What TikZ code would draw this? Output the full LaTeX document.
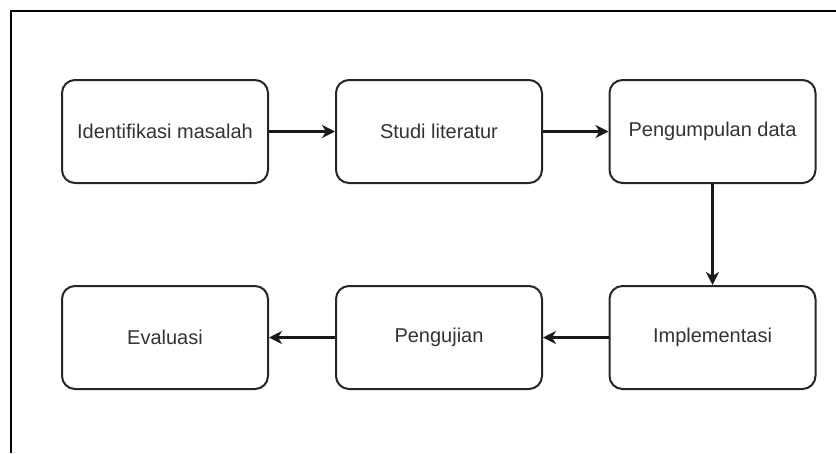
\documentclass[tikz,border=0pt]{standalone}
\usepackage{fontspec}
\setmainfont{Liberation Sans}
\usetikzlibrary{arrows.meta}
\begin{document}
\begin{tikzpicture}[x=1pt,y=-1pt,
  stepbox/.style={draw=black!85, line width=2pt, rounded corners=13pt, minimum width=206pt, minimum height=103pt, inner sep=0pt, font=\fontsize{20}{24}\selectfont, text=black!80, fill=white},
  conn/.style={draw=black!90, line width=2.1pt, -{Stealth[length=13pt,width=13pt,inset=4pt]}},
  frame/.style={draw=black, line width=2pt}]
\useasboundingbox (0,0) rectangle (836,453);
\coordinate (ftop) at (11,11);
\coordinate (fright) at (836,11);
\coordinate (fbot) at (11,453);
\draw[frame] (fright) -- (ftop) -- (fbot);
\node[stepbox] (a) at (165,131.5) {Identifikasi masalah};
\node[stepbox] (b) at (439,131.5) {Studi literatur};
\node[stepbox] (c) at (712.5,131.5) {Pengumpulan data};
\node[stepbox] (f) at (165,337.5) {Evaluasi};
\node[stepbox] (e) at (439,337.5) {Pengujian};
\node[stepbox] (d) at (712.5,337.5) {Implementasi};
\draw[conn] (a) -- (b);
\draw[conn] (b) -- (c);
\draw[conn] (c) -- (d);
\draw[conn] (d) -- (e);
\draw[conn] (e) -- (f);
\end{tikzpicture}
\end{document}
